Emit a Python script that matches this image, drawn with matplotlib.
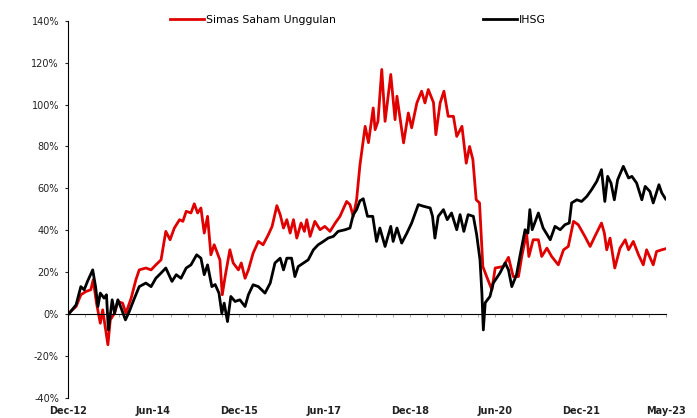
import matplotlib.pyplot as plt
from matplotlib.ticker import FuncFormatter, MultipleLocator

# months since Dec-12, cumulative return in %
simas_m = [0, 1.7, 2.7, 3.8, 4.8, 5.3, 6.0, 6.8, 7.3, 8.4, 8.9, 9.8, 10.5, 11.5, 12.2, 13.3, 14.3, 15.0,
           16.4, 17.5, 18.5, 19.6, 20.6, 21.5, 22.4, 23.5, 24.2, 24.9, 25.9, 26.6, 27.3, 28.0, 28.7, 29.4,
           30.1, 30.8, 32.0, 32.5, 33.1, 34.1, 34.8, 35.9, 36.5, 37.3, 38.0, 39.0, 40.1, 41.1, 42.2, 43.0,
           44.0, 44.7, 45.4, 46.1, 46.8, 47.5, 48.2, 49.1, 49.8, 50.3, 51.0, 52.0, 53.1, 54.1, 55.2, 56.3,
           57.3, 58.7, 59.4, 60.1, 60.8, 61.5, 62.6, 63.3, 64.3, 64.7, 65.3, 66.1, 66.8, 68.0, 68.9, 69.3,
           70.7, 71.7, 72.4, 73.5, 74.5, 75.2, 75.9, 77.0, 77.5, 78.4, 79.2, 80.1, 81.2, 81.9, 83.0, 83.9,
           84.6, 85.3, 86.0, 86.7, 87.4, 88.2, 89.3, 90.0, 91.7, 92.8, 93.8, 94.9, 95.6, 96.6, 97.1, 98.0,
           99.1, 99.8, 100.9, 101.9, 103.3, 104.4, 105.4, 106.5, 107.5, 108.9, 110.0, 111.0, 112.4, 113.0,
           113.5, 114.2, 115.2, 116.3, 117.4, 118.1, 119.1, 120.2, 121.2, 121.9, 123.3, 124.0, 125.1, 125.9]
simas_v = [0, 3.5, 9.1, 10.7, 11.5, 16.3, 5.1, -4.5, 1.9, -14.8, -2.9, 0.3, 5.9, 5.1, 0.3, 7.5, 16.3, 21,
           21.9, 21, 23.4, 25.8, 39.4, 35.4, 41, 45, 44.2, 49, 48.2, 52.6, 48.2, 50.6, 38.6, 46.6,
           28.2, 33, 25.8, 9.1, 17.8, 30.6, 24.3, 21, 24.3, 17, 21, 29, 34.6, 33, 37.8, 41.8,
           51.7, 47.4, 41, 45, 38.6, 45, 36.2, 43.4, 39.4, 45, 37, 44.2, 40.2, 41.8, 39.4, 43.4,
           46.6, 53.7, 52.2, 46.6, 54.5, 71, 89.6, 81.8, 98.4, 88, 92, 116.8, 92, 114.4, 92.8, 104,
           81.7, 96, 88.9, 100.8, 106.4, 100.8, 107.2, 101, 85.6, 100.8, 106.4, 94.4, 94.4, 84.8, 89.6, 72,
           80, 73.7, 54.5, 53, 22.6, 17.8, 11.5, 21.9, 22.6, 27, 17.8, 17.8, 27.4, 38.6, 27.4, 35.4,
           35.4, 27.4, 31.4, 27.4, 23.4, 30.6, 32.2, 44.2, 42.6, 37, 32.2, 37, 43.4, 38.6,
           30.6, 36.2, 21.9, 31.4, 35.4, 30.6, 34.6, 28.2, 23.4, 30.6, 23.4, 29.8, 30.6, 31.1]

ihsg_m = [0, 1.7, 2.7, 3.4, 4.1, 5.2, 5.8, 6.3, 6.8, 7.6, 8.1, 8.5, 9.3, 9.8, 10.5, 11.2, 12.1, 12.9,
          14.0, 15.0, 16.4, 17.5, 18.5, 19.6, 20.6, 21.9, 22.8, 23.8, 24.9, 25.9, 27.1, 28.0, 28.7, 29.4,
          30.3, 31.0, 31.8, 32.4, 32.9, 33.6, 34.3, 35.2, 36.2, 37.3, 38.0, 39.0, 40.1, 41.5, 42.6, 43.6,
          44.7, 45.4, 46.1, 47.1, 47.8, 48.5, 49.6, 50.6, 51.7, 52.7, 53.8, 54.8, 55.9, 56.9, 58.4, 59.4,
          60.1, 60.8, 61.5, 62.2, 63.1, 64.2, 65.0, 65.7, 66.8, 68.0, 68.5, 69.3, 70.3, 71.4, 72.4, 73.8,
          74.9, 76.3, 76.8, 77.3, 78.0, 79.1, 79.9, 80.8, 81.9, 82.6, 83.4, 84.3, 85.4, 86.1, 86.8, 87.2,
          87.5, 87.9, 88.9, 89.6, 91.0, 92.1, 92.8, 93.5, 94.5, 95.2, 96.3, 96.9, 97.3, 97.8, 99.1, 100.1,
          101.6, 102.6, 103.7, 104.7, 105.6, 106.1, 107.2, 108.2, 109.3, 110.3, 111.4, 112.4, 113.1, 113.7,
          114.4, 115.1, 115.8, 117.0, 118.1, 118.8, 119.8, 120.9, 121.6, 122.6, 123.3, 124.5, 125.1, 125.9]
ihsg_v = [-0.5, 4.3, 13, 11.5, 15.5, 21, 13, 3.5, 9.9, 7.5, 9.1, -7.7, 6.7, 0.3, 6.7, 2.7, -2.9, 1.1,
          7.5, 13, 14.7, 13, 17, 19.5, 21.9, 15.5, 18.7, 17, 21.9, 23.4, 28.2, 26.6, 18.7, 23.4,
          13, 14, 9.9, 0.3, 5.1, -3.7, 8.3, 5.9, 6.7, 3.5, 9.1, 13.9, 13, 9.9, 14.7, 24.3,
          26.6, 21, 26.6, 26.6, 17.8, 22.6, 24.3, 25.8, 30.6, 33, 34.6, 36.2, 37, 39.4, 40.2, 41,
          47.4, 49.8, 54, 55, 46.6, 46.6, 34.6, 41, 32.2, 41.8, 34.6, 41, 33.8, 38.6, 43.4, 52.2,
          51.4, 50.6, 46.6, 36.2, 46.6, 49.8, 45, 48.2, 40.2, 47.4, 39.4, 47.4, 46.6, 37.8, 25.8, 9.9,
          -7.7, 5.3, 8.3, 14.7, 19.5, 24.3, 21, 13, 18.7, 27.4, 40.2, 38.6, 49.8, 40.2, 48.2, 41,
          35.4, 41.8, 40.2, 42.6, 43.4, 53, 54.5, 53.7, 56.1, 59.3, 63.3, 68.9, 53.7, 65.7,
          62.5, 54.5, 64.1, 70.5, 64.9, 65.7, 62.5, 54.5, 60.9, 58.5, 53, 61.7, 57.8, 54.9]

tick_months = [0, 18, 36, 54, 72, 90, 108, 126]
tick_labels = ["Dec-12", "Jun-14", "Dec-15", "Jun-17", "Dec-18", "Jun-20", "Dec-21", "May-23"]

fig = plt.figure(figsize=(6.97, 4.18), dpi=100)
ax = fig.add_axes([0.0976, 0.049, 0.858, 0.901])

ax.plot(simas_m, simas_v, color="#e00000", lw=2.0, label="Simas Saham Unggulan")
ax.plot(ihsg_m, ihsg_v, color="black", lw=2.0, label="IHSG")

ax.set_xlim(0, 126)
ax.set_ylim(-40, 140)
ax.yaxis.set_major_locator(MultipleLocator(20))
ax.yaxis.set_major_formatter(FuncFormatter(lambda v, p: f"{v:.0f}%"))
ax.tick_params(axis="y", length=2.5, width=0.8, labelsize=7, pad=4, colors="#222222")

# x axis line sits at 0%, small ticks on it, labels at the bottom
ax.spines["top"].set_visible(False)
ax.spines["right"].set_visible(False)
ax.spines["bottom"].set_position(("data", 0))
ax.set_xticks([126 / 35 * i for i in range(36)])
ax.tick_params(axis="x", length=2, width=0.6, colors="#999999", labelbottom=False)
ax.spines["bottom"].set_color("black")

sec = ax.secondary_xaxis("bottom")
sec.spines["bottom"].set_visible(False)
sec.set_xticks(tick_months)
sec.set_xticklabels(tick_labels, fontsize=7, fontweight="bold", color="#222222")
sec.tick_params(length=0, pad=6)

fig.legend(loc="center left", bbox_to_anchor=(170 / 697, 1 - 20 / 418), ncol=2, frameon=False,
           fontsize=7.8, handlelength=3.1, handletextpad=0.2, columnspacing=13.6,
           borderpad=0, borderaxespad=0)

plt.savefig("out.png", dpi=100)
